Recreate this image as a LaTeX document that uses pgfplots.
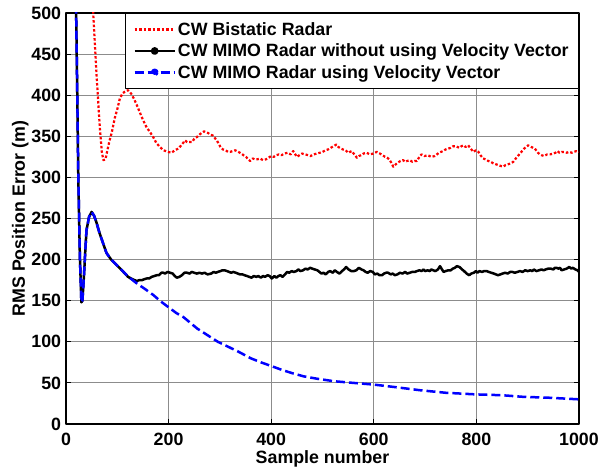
\documentclass[border=0pt]{standalone}
\usepackage{fontspec}
\setmainfont{Liberation Sans}
\usepackage{pgfplots}
\pgfplotsset{compat=1.18}
\definecolor{mred}{rgb}{1,0,0}
\definecolor{mblue}{rgb}{0,0,1}
\newcommand{\lab}{\fontsize{17.8}{21}\selectfont\bfseries}
\begin{document}
\begin{tikzpicture}
\path[use as bounding box] (-66pt,-46pt) rectangle (532pt,424pt);
\begin{axis}[
    at={(0pt,0pt)}, anchor=south west,
    scale only axis, width=513pt, height=411pt,
    xmin=0, xmax=1000, ymin=0, ymax=500,
    xtick={0,200,...,1000}, ytick={0,50,...,500},
    /pgf/number format/assume math mode=true,
    /pgf/number format/1000 sep={},
    ticklabel style={font=\lab, inner sep=0pt},
    xticklabel style={anchor=base, yshift=-22pt},
    yticklabel style={anchor=east, xshift=-4.7pt},
    tick align=inside, major tick length=5pt,
    tick style={black, line width=0.8pt},
    axis line style={black, line width=1.3pt},
    grid=major, major grid style={black!45, line width=0.8pt},
    xlabel={Sample number}, ylabel={RMS Position Error (m)},
    label style={font=\lab},
    xlabel style={at={(axis description cs:0.5,-0.0966)}, anchor=base},
    ylabel style={at={(axis description cs:-0.08,0.5)}, anchor=base, rotate=0},
    legend cell align=left,
    legend style={at={(1,1)}, anchor=north east, font=\lab, draw=black,
      line width=0.8pt, inner xsep=8pt, inner ysep=7pt, row sep=3pt},
    line join=round,
  ]
  \addplot[mred, line width=2.2pt, dash pattern=on 2.5pt off 2pt,
    legend image code/.code={\draw[mred, line width=2.2pt, dash pattern=on 2.5pt off 2pt] (0pt,0pt) -- (40pt,0pt);}]
  table {
    x y
    45 650
    50 560
    53 500
    60 420
    66 360
    70 330
    73 321
    77 322
    81 334
    85 345
    89 354
    95 372
    100 383
    105 396
    110 402
    116 405
    121 406
    127 402
    133 395
    138 388
    144 379
    150 370
    157 361
    164 355
    170 349
    176 342
    183 337
    190 333
    199 331
    206 330
    212 333
    219 335
    226 340
    232 345
    236 343
    241 343
    246 343
    250 347
    255 349
    262 353
    269 356
    273 355
    277 354
    281 352
    286 351
    290 348
    294 345
    302 336
    306 334
    311 333
    316 331
    320 331
    325 332
    330 333
    336 331
    342 329
    346 327
    351 325
    355 322
    359 320
    364 323
    368 322
    373 322
    378 323
    384 321
    390 322
    395 324
    400 326
    405 325
    410 327
    415 328
    420 327
    426 329
    432 330
    438 328
    443 332
    447 328
    450 325
    455 327
    460 329
    466 328
    472 327
    477 326
    483 328
    489 329
    495 330
    500 331
    506 333
    511 334
    516 336
    522 338
    527 340
    531 337
    536 335
    540 334
    545 333
    550 330
    557 332
    562 328
    567 324
    571 326
    575 327
    580 329
    586 330
    592 328
    599 329
    606 331
    612 329
    617 327
    622 325
    626 324
    630 322
    634 318
    638 313
    643 316
    647 318
    652 320
    657 321
    661 319
    665 320
    670 321
    675 319
    680 320
    684 320
    689 325
    693 328
    699 326
    705 327
    712 325
    719 326
    723 328
    727 330
    731 331
    735 332
    740 334
    745 335
    750 336
    755 338
    759 338
    763 337
    767 336
    771 338
    775 339
    779 337
    784 339
    789 335
    794 331
    799 333
    804 331
    808 327
    813 323
    818 322
    823 320
    828 319
    833 317
    838 316
    843 315
    847 314
    852 313
    857 315
    862 316
    867 317
    872 319
    878 324
    885 329
    889 332
    893 335
    897 337
    901 339
    907 337
    914 335
    920 330
    924 328
    927 327
    932 326
    938 328
    944 328
    950 329
    954 330
    958 332
    962 330
    966 331
    971 331
    976 330
    981 331
    986 330
    990 331
    995 332
    1000 331
  };
  \addlegendentry{CW Bistatic Radar}
  \addplot[black, line width=2.5pt,
    legend image code/.code={\draw[black, line width=2.5pt] (0pt,0pt) -- (40pt,0pt); \fill[black] (20pt,0pt) circle (2.6pt);}]
  table {
    x y
    15 700
    20 490
    22 400
    24 300
    27 205
    30 148
    32 150
    35 180
    38 215
    40 236
    45 252
    50 258
    55 253
    60 244
    65 233
    70 224
    75 215
    79 208
    88 200
    96 195
    104 190
    112 185
    121 179
    130 176
    138 174
    143 175
    148 175
    152 176
    157 177
    162 177
    167 179
    172 180
    177 181
    181 181
    186 184
    190 184
    193 183
    198 185
    203 184
    208 183
    212 180
    216 178
    221 179
    226 181
    231 184
    236 184
    241 183
    245 185
    250 184
    255 183
    260 184
    265 183
    270 184
    276 182
    283 183
    288 185
    292 184
    296 185
    301 186
    305 187
    309 187
    314 186
    318 185
    322 184
    326 185
    331 184
    335 183
    339 182
    344 182
    348 181
    353 180
    357 179
    362 178
    366 180
    371 179
    375 180
    380 178
    384 180
    388 179
    393 181
    397 180
    401 177
    406 180
    410 178
    414 180
    418 181
    422 179
    427 182
    431 185
    435 184
    440 186
    444 185
    449 186
    453 188
    457 186
    462 187
    467 189
    471 188
    476 190
    480 189
    485 188
    490 187
    494 185
    498 183
    502 184
    506 182
    511 185
    515 186
    520 184
    524 187
    528 185
    533 183
    538 186
    542 188
    546 191
    551 188
    556 186
    561 186
    566 187
    571 190
    576 188
    580 187
    584 185
    588 184
    593 186
    598 185
    602 182
    607 183
    611 181
    616 181
    620 183
    624 184
    628 184
    633 182
    637 183
    641 181
    646 182
    651 184
    656 183
    661 185
    665 183
    670 184
    675 185
    680 185
    684 186
    689 187
    693 186
    697 188
    700 186
    705 187
    709 186
    712 188
    716 187
    720 186
    725 188
    729 192
    733 188
    736 185
    740 186
    745 187
    750 187
    754 189
    758 190
    762 192
    767 191
    772 188
    776 186
    781 183
    786 181
    790 183
    795 184
    799 186
    802 184
    806 186
    811 185
    815 186
    820 186
    824 185
    829 184
    834 183
    838 182
    842 181
    847 182
    851 183
    856 184
    861 183
    866 185
    870 185
    875 184
    880 185
    885 186
    890 185
    895 187
    900 186
    905 187
    909 186
    912 188
    917 186
    922 187
    927 188
    931 187
    935 188
    940 189
    945 189
    950 188
    953 190
    956 190
    960 189
    963 190
    966 187
    971 188
    976 189
    981 191
    985 189
    988 190
    993 188
    997 187
    1000 185
  };
  \addlegendentry{CW MIMO Radar without using Velocity Vector}
  \addplot[mblue, line width=2.5pt, dash pattern=on 9pt off 4pt,
    legend image code/.code={\draw[mblue, line width=2.5pt, dash pattern=on 9pt off 4pt] (0pt,0pt) -- (40pt,0pt); \fill[mblue] (20pt,0pt) circle (2.6pt);}]
  table {
    x y
    15 700
    20 490
    22 400
    24 300
    27 205
    30 148
    32 150
    35 180
    38 215
    40 236
    45 252
    50 258
    55 253
    60 244
    65 233
    70 224
    75 215
    79 208
    88 200
    96 195
    104 190
    112 185
    120 180
    130 175
    140 170
    150 166
    170 157
    185 149
    200 142
    215 135
    229 130
    256 116
    276 108
    296 100
    316 94
    336 88
    360 80
    380 75
    398 71
    420 66
    440 62
    463 58
    490 55
    523 52
    560 50
    599 48
    640 45
    691 41
    740 38
    799 36
    850 35
    892 33
    940 32
    1000 30
  };
  \addlegendentry{CW MIMO Radar using Velocity Vector}
\end{axis}
\end{tikzpicture}
\end{document}
